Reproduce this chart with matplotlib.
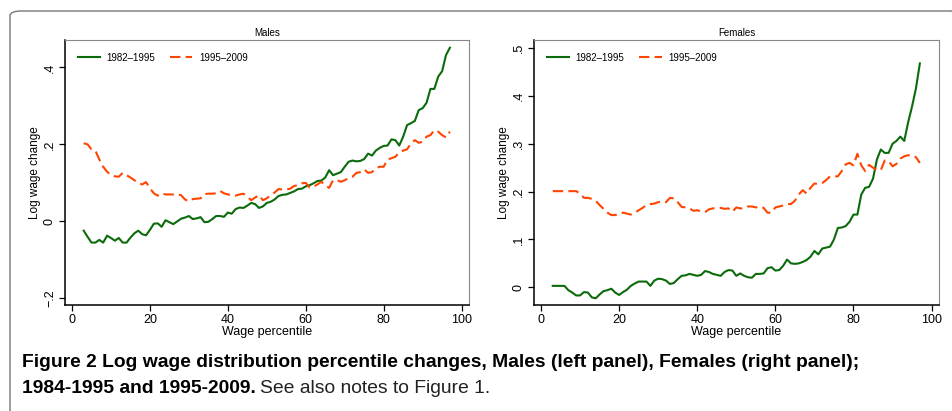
import numpy as np
import matplotlib
matplotlib.use("Agg")
import matplotlib.pyplot as plt
from matplotlib.patches import FancyBboxPatch

plt.rcParams['font.family'] = ['Liberation Sans', 'DejaVu Sans']

# ——— data ———
pct = list(range(3, 98))

male_8295 = [-0.024, -0.040, -0.055, -0.055, -0.048, -0.055, -0.037, -0.043, -0.050, -0.043,
             -0.055, -0.055, -0.042, -0.031, -0.024, -0.033, -0.036, -0.022, -0.006, -0.005,
             -0.014, 0.003, -0.002, -0.007, 0.000, 0.007, 0.010, 0.014, 0.006, 0.008,
             0.011, -0.002, -0.001, 0.006, 0.014, 0.014, 0.012, 0.023, 0.020, 0.032,
             0.036, 0.035, 0.041, 0.048, 0.045, 0.035, 0.039, 0.048, 0.051, 0.057,
             0.066, 0.069, 0.070, 0.074, 0.078, 0.084, 0.085, 0.091, 0.094, 0.099,
             0.105, 0.106, 0.114, 0.133, 0.120, 0.124, 0.128, 0.142, 0.155, 0.158,
             0.156, 0.157, 0.162, 0.176, 0.171, 0.184, 0.191, 0.196, 0.197, 0.213,
             0.211, 0.197, 0.220, 0.250, 0.255, 0.261, 0.289, 0.294, 0.308, 0.344,
             0.344, 0.376, 0.390, 0.432, 0.451]
male_9509 = [0.203, 0.200, 0.187, 0.184, 0.161, 0.142, 0.129, 0.120, 0.117, 0.116,
             0.126, 0.120, 0.114, 0.107, 0.100, 0.096, 0.102, 0.086, 0.073, 0.067,
             0.073, 0.070, 0.070, 0.070, 0.070, 0.068, 0.057, 0.052, 0.058, 0.059,
             0.060, 0.071, 0.072, 0.072, 0.073, 0.079, 0.073, 0.070, 0.068, 0.067,
             0.070, 0.072, 0.064, 0.055, 0.062, 0.068, 0.055, 0.060, 0.068, 0.075,
             0.084, 0.083, 0.083, 0.085, 0.092, 0.094, 0.099, 0.100, 0.088, 0.090,
             0.096, 0.103, 0.094, 0.087, 0.107, 0.107, 0.103, 0.107, 0.112, 0.116,
             0.126, 0.128, 0.135, 0.126, 0.128, 0.138, 0.142, 0.142, 0.161, 0.164,
             0.168, 0.179, 0.184, 0.187, 0.203, 0.211, 0.204, 0.207, 0.220, 0.224,
             0.237, 0.233, 0.224, 0.218, 0.233]
female_8295 = [0.003, 0.003, 0.003, 0.003, -0.006, -0.011, -0.017, -0.017, -0.010, -0.011,
               -0.021, -0.023, -0.015, -0.008, -0.006, -0.003, -0.011, -0.016, -0.010, -0.005,
               0.003, 0.008, 0.012, 0.012, 0.012, 0.003, 0.014, 0.018, 0.017, 0.014,
               0.007, 0.009, 0.017, 0.024, 0.025, 0.028, 0.026, 0.024, 0.026, 0.034,
               0.032, 0.028, 0.026, 0.024, 0.032, 0.036, 0.035, 0.024, 0.029, 0.024,
               0.021, 0.020, 0.028, 0.028, 0.029, 0.040, 0.042, 0.035, 0.036, 0.045,
               0.058, 0.050, 0.049, 0.050, 0.053, 0.057, 0.064, 0.076, 0.069, 0.081,
               0.083, 0.085, 0.100, 0.124, 0.125, 0.128, 0.137, 0.152, 0.152, 0.194,
               0.208, 0.210, 0.227, 0.267, 0.288, 0.281, 0.281, 0.300, 0.306, 0.315,
               0.306, 0.345, 0.378, 0.416, 0.468]
female_9509 = [0.201, 0.201, 0.201, 0.201, 0.201, 0.201, 0.201, 0.196, 0.187, 0.187,
               0.185, 0.181, 0.172, 0.164, 0.156, 0.151, 0.151, 0.154, 0.156, 0.154,
               0.152, 0.156, 0.161, 0.166, 0.172, 0.174, 0.175, 0.178, 0.179, 0.178,
               0.187, 0.186, 0.178, 0.168, 0.167, 0.165, 0.160, 0.161, 0.159, 0.157,
               0.163, 0.165, 0.165, 0.166, 0.164, 0.165, 0.158, 0.167, 0.165, 0.165,
               0.169, 0.169, 0.167, 0.169, 0.166, 0.156, 0.156, 0.167, 0.169, 0.171,
               0.174, 0.174, 0.181, 0.194, 0.203, 0.196, 0.208, 0.217, 0.216, 0.218,
               0.224, 0.232, 0.232, 0.232, 0.243, 0.257, 0.260, 0.255, 0.279, 0.255,
               0.243, 0.256, 0.250, 0.245, 0.245, 0.265, 0.264, 0.253, 0.258, 0.269,
               0.274, 0.276, 0.276, 0.272, 0.260]

male_yticks = [-0.2, 0, 0.2, 0.4]
male_ylabels = ['\u2212.2', '0', '.2', '.4']
female_yticks = [0, 0.1, 0.2, 0.3, 0.4, 0.5]
female_ylabels = ['0', '.1', '.2', '.3', '.4', '.5']
xticks = [0, 20, 40, 60, 80, 100]

GREEN = '#0b6b0b'
ORANGE = '#ff4500'

fig = plt.figure(figsize=(9.53, 4.11), dpi=100)

# outer box of the figure panel
frame = FancyBboxPatch((10/953, -0.05), 1.0, 1 - 11/411 + 0.05,
                       boxstyle='round,pad=0,rounding_size=0.012',
                       transform=fig.transFigure, fill=False,
                       edgecolor='#777777', lw=1.0, clip_on=False)
fig.patches.append(frame)


def panel(rect, title, a, b, yt, yl, ylim):
    ax = fig.add_axes(rect)
    ax.plot(pct, a, color=GREEN, lw=1.5, label='1982\u20131995')
    ax.plot(pct, b, color=ORANGE, lw=1.5, dashes=(5, 2.5), label='1995\u20132009')
    ax.set_xlim(-1.8, 101.9)
    ax.set_ylim(*ylim)
    ax.set_xticks(xticks)
    ax.set_yticks(yt)
    ax.set_yticklabels(yl, rotation=90, va='center')
    ax.tick_params(axis='both', direction='out', length=4.5, width=0.9,
                   labelsize=9, pad=2, top=False, right=False)
    for s in ('top', 'right'):
        ax.spines[s].set_color('#888888')
        ax.spines[s].set_linewidth(0.8)
    for s in ('left', 'bottom'):
        ax.spines[s].set_color('black')
        ax.spines[s].set_linewidth(1.1)
    ax.set_title(title, fontsize=7, pad=3)
    ax.set_xlabel('Wage percentile', fontsize=9, labelpad=0)
    ax.set_ylabel('Log wage change', fontsize=8.5, labelpad=2)
    ax.legend(loc='upper left', ncol=2, frameon=False, fontsize=7,
              handlelength=2.3, handletextpad=0.7, columnspacing=1.5,
              borderaxespad=0.9, bbox_to_anchor=(0.0, 1.0))
    return ax


panel([65/953, 1 - 305/411, 404/953, 265/411], 'Males',
      male_8295, male_9509, male_yticks, male_ylabels, (-0.217, 0.471))
panel([534/953, 1 - 305/411, 405/953, 265/411], 'Females',
      female_8295, female_9509, female_yticks, female_ylabels, (-0.037, 0.517))

# caption
cap_font = ['Liberation Sans Narrow', 'Liberation Sans', 'DejaVu Sans']
fig.text(22/953, 1 - 362/411,
         'Figure 2 Log wage distribution percentile changes, Males (left panel), Females (right panel);',
         fontsize=13.9, fontweight='bold', family=cap_font, va='center', ha='left')
t2 = fig.text(22/953, 1 - 388/411, '1984-1995 and 1995-2009.',
              fontsize=13.9, fontweight='bold', family=cap_font, va='center', ha='left')
fig.canvas.draw()
bb = t2.get_window_extent()
fig.text(bb.x1 / fig.bbox.width + 4/953, 1 - 388/411, 'See also notes to Figure 1.',
         fontsize=13.9, family=cap_font, va='center', ha='left', color='#222222')

fig.savefig('out.png', dpi=100)
